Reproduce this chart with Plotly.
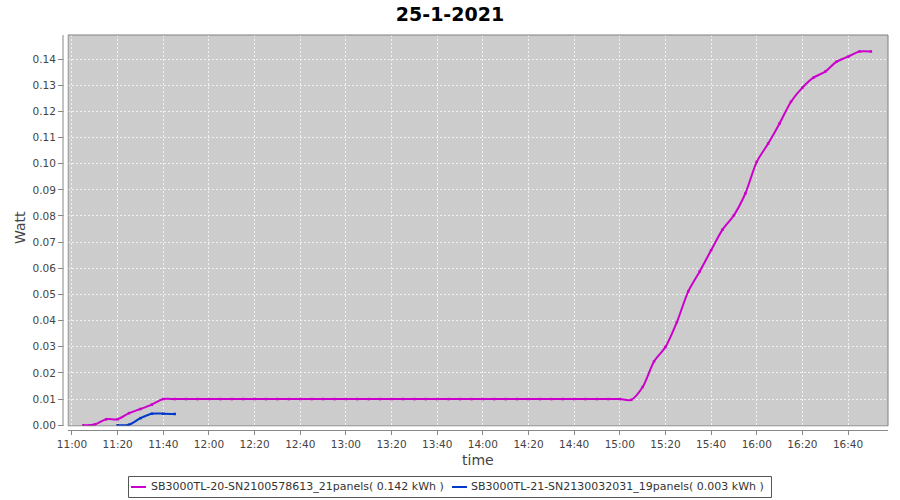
import plotly.graph_objects as go
import pandas as pd

DAY = "2021-01-25 "

# Series 1: SB3000TL-20 (magenta)
t1 = ["11:05", "11:10", "11:15", "11:20", "11:25", "11:30", "11:35", "11:40", "11:45", "11:50",
      "11:55", "12:00", "12:05", "12:10", "12:15", "12:20", "12:25", "12:30", "12:35", "12:40",
      "12:45", "12:50", "12:55", "13:00", "13:05", "13:10", "13:15", "13:20", "13:25", "13:30",
      "13:35", "13:40", "13:45", "13:50", "13:55", "14:00", "14:05", "14:10", "14:15", "14:20",
      "14:25", "14:30", "14:35", "14:40", "14:45", "14:50", "14:55", "15:00", "15:05", "15:10",
      "15:15", "15:20", "15:25", "15:30", "15:35", "15:40", "15:45", "15:50", "15:55", "16:00",
      "16:05", "16:10", "16:15", "16:20", "16:25", "16:30", "16:35", "16:40", "16:45", "16:50"]
v1 = [0.0, 0.0003, 0.0023, 0.0023, 0.0046, 0.0062, 0.0079, 0.0100, 0.0100, 0.0100,
      0.0100, 0.0100, 0.0100, 0.0100, 0.0100, 0.0100, 0.0100, 0.0100, 0.0100, 0.0100,
      0.0100, 0.0100, 0.0100, 0.0100, 0.0100, 0.0100, 0.0100, 0.0100, 0.0100, 0.0100,
      0.0100, 0.0100, 0.0100, 0.0100, 0.0100, 0.0100, 0.0100, 0.0100, 0.0100, 0.0100,
      0.0100, 0.0100, 0.0100, 0.0100, 0.0100, 0.0100, 0.0100, 0.0100, 0.0097, 0.0146,
      0.0244, 0.0299, 0.0394, 0.0512, 0.0588, 0.0669, 0.0748, 0.0803, 0.0886, 0.1007,
      0.1077, 0.1154, 0.1237, 0.1291, 0.1330, 0.1352, 0.1390, 0.1409, 0.1429, 0.1429]

# Series 2: SB3000TL-21 (blue)
t2 = ["11:20", "11:25", "11:30", "11:35", "11:40", "11:45"]
v2 = [0.0, 0.0002, 0.0027, 0.0044, 0.0044, 0.0043]

names = ["SB3000TL-20-SN2100578613_21panels( 0.142 kWh )",
         "SB3000TL-21-SN2130032031_19panels( 0.003 kWh )"]
colors = ["#CC00CC", "#0038CC"]

x1 = pd.to_datetime([DAY + t for t in t1])
x2 = pd.to_datetime([DAY + t for t in t2])

fig = go.Figure()
for x, v, n, c in [(x1, v1, names[0], colors[0]), (x2, v2, names[1], colors[1])]:
    fig.add_trace(go.Scatter(
        x=x, y=v, name=n, mode="lines+markers", showlegend=False,
        line=dict(color=c, width=2, shape="spline", smoothing=0.8),
        marker=dict(color=c, size=2.5, symbol="square"),
    ))

font = "DejaVu Sans"
# the body margin is removed by a post script, so figure px == page px
OFF = 0
FW, FH = 900, 500
PL, PR, PT, PB = 68 - OFF, 888 - OFF, 35 - OFF, 426 - OFF   # plot box in figure px
W, H = PR - PL, PB - PT


def px(xp):  # page x -> paper x
    return (xp - OFF - PL) / W


def py(yp):  # page y -> paper y
    return (PB - (yp - OFF)) / H


fig.update_layout(
    width=FW, height=FH,
    margin=dict(l=PL, r=FW - PR, t=PT, b=FH - PB, autoexpand=False),
    paper_bgcolor="white", plot_bgcolor="#CCCCCC",
    title=dict(text="<b>25-1-2021</b>", x=0.5, xanchor="center",
               y=1 - (14 - OFF) / FH, yanchor="middle", yref="container",
               font=dict(family=font, size=19, color="black")),
    font=dict(family=font, size=10.5, color="#444444"),
    showlegend=False,
    xaxis=dict(
        automargin=False,
        type="date",
        range=[DAY + "10:58:15", DAY + "16:57:30"],
        tickformat="%H:%M", dtick=20 * 60 * 1000, tick0=DAY + "11:00",
        showgrid=True, gridcolor="#F2F2F2", griddash="2px,2px", gridwidth=1,
        ticks="outside", ticklen=8, tickcolor="#888888",
        showline=False, zeroline=False,
    ),
    yaxis=dict(
        automargin=False,
        range=[-0.0003, 0.1492],
        dtick=0.01, tickformat=".2f",
        showgrid=True, gridcolor="#F2F2F2", griddash="2px,2px", gridwidth=1,
        ticks="outside", ticklen=9, tickcolor="#888888",
        showline=False, zeroline=False,
    ),
)

annotations = [
    dict(text="time", xref="paper", yref="paper", x=px(478), y=py(460),
         xanchor="center", yanchor="middle", showarrow=False,
         font=dict(family=font, size=14, color="#444444")),
    dict(text="Watt", xref="paper", yref="paper", x=px(20), y=py(228),
         xanchor="center", yanchor="middle", showarrow=False, textangle=-90,
         font=dict(family=font, size=14, color="#444444")),
]

# plot border and offset axis lines (JFreeChart style)
shapes = [
    dict(type="rect", xref="paper", yref="paper", x0=0, y0=0, x1=1, y1=1,
         line=dict(color="#808080", width=1), layer="above"),
    dict(type="rect", xref="paper", yref="paper", x0=-4.5 / W, x1=-0.5 / W, y0=0, y1=1,
         line=dict(width=0), fillcolor="white", layer="above"),
    dict(type="rect", xref="paper", yref="paper", y0=-4.5 / H, y1=-0.5 / H, x0=0, x1=1,
         line=dict(width=0), fillcolor="white", layer="above"),
    dict(type="line", xref="paper", yref="paper", x0=-5 / W, x1=-5 / W, y0=0, y1=1,
         line=dict(color="#888888", width=1), layer="above"),
    dict(type="line", xref="paper", yref="paper", y0=-4.5 / H, y1=-4.5 / H, x0=0, x1=1,
         line=dict(color="#888888", width=1), layer="above"),
]

# legend box (JFreeChart style, drawn below the chart)
LEG_TOP, LEG_BOT, LEG_L, LEG_R = 476.5, 497.5, 128.5, 771.5
LEG_Y = (LEG_TOP + LEG_BOT) / 2
shapes.append(dict(type="rect", xref="paper", yref="paper",
                   x0=px(LEG_L), x1=px(LEG_R), y0=py(LEG_BOT), y1=py(LEG_TOP),
                   line=dict(color="#555555", width=1), fillcolor="white", layer="above"))
leg_items = [(131, 149), (452, 469)]
for (lx, tx), n, c in zip(leg_items, names, colors):
    shapes.append(dict(type="line", xref="paper", yref="paper",
                       x0=px(lx), x1=px(lx + 15), y0=py(LEG_Y), y1=py(LEG_Y),
                       line=dict(color=c, width=2), layer="above"))
    annotations.append(dict(text=n, xref="paper", yref="paper", x=px(tx), y=py(LEG_Y),
                            xanchor="left", yanchor="middle", showarrow=False,
                            font=dict(family=font, size=11, color="#333333")))

fig.update_layout(shapes=shapes, annotations=annotations)

fig.write_html(
    "out.html",
    config={"displayModeBar": False},
    post_script="document.body.style.margin='0';document.body.style.overflow='hidden';",
)
